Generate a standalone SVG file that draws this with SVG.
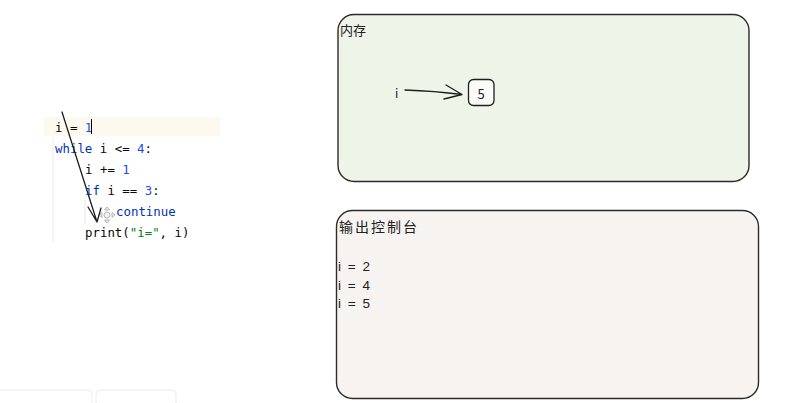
<svg xmlns="http://www.w3.org/2000/svg" width="789" height="403" viewBox="0 0 789 403">
<style>
.code{font-family:"DejaVu Sans Mono","Liberation Mono",monospace;font-size:12.4px;fill:#080808}
.kw{fill:#0033b3}
.num{fill:#1750eb}
.str{fill:#067d17}
.hand{font-family:"Noto Sans CJK SC","Noto Sans",sans-serif;fill:#222}
.out{font-family:"Liberation Sans",Arial,sans-serif;font-size:13.5px;fill:#222;letter-spacing:1.5px}
.box{stroke:#2b2b2b;stroke-width:1.4}
.ink{stroke:#1e1e1e;stroke-width:1.3;fill:none;stroke-linecap:round;stroke-linejoin:round}
</style>
<rect width="789" height="403" fill="#ffffff"/>
<g id="code">
<rect x="44" y="117" width="176" height="19" fill="#fdf9ee"/>
<line x1="53" y1="137" x2="53" y2="242" stroke="#ececec" stroke-width="1"/>
<line x1="85" y1="200" x2="85" y2="224" stroke="#e6e6e6" stroke-width="1"/>
<text class="code" x="55" y="132">i = <tspan class="num">1</tspan></text>
<line x1="91.5" y1="119" x2="91.5" y2="134" stroke="#000" stroke-width="1"/>
<text class="code" x="55" y="153"><tspan class="kw">while</tspan> i &lt;= <tspan class="num">4</tspan>:</text>
<text class="code" x="85" y="174">i += <tspan class="num">1</tspan></text>
<text class="code" x="85" y="195"><tspan class="kw">if</tspan> i == <tspan class="num">3</tspan>:</text>
<text class="code" x="116" y="216"><tspan class="kw">continue</tspan></text>
<text class="code" x="85" y="237">print(<tspan class="str">"i="</tspan>, i)</text>
<g id="cursor" stroke="#b5b5b5" stroke-width="1" fill="#f2f2f2">
<circle cx="107" cy="215" r="3"/>
<path d="M107 207 L104.5 210 L109.5 210 Z M107 223 L104.5 220 L109.5 220 Z M99 215 L102 212.5 L102 217.5 Z M115 215 L112 212.5 L112 217.5 Z"/>
</g>
</g>
<g id="memory">
<rect class="box" x="338" y="14.5" width="411" height="167" rx="16" fill="#eef4e7"/>
<text class="hand" x="340" y="35" font-size="13">内存</text>
<text class="hand" x="395" y="98" font-size="12" fill="#555">i</text>
<g id="value-5">
<rect x="468.5" y="79.5" width="25.5" height="26" rx="5" fill="#fafcf7" stroke="#1e1e1e" stroke-width="1.3"/>
<text class="hand" x="481" y="99" font-size="13" text-anchor="middle">5</text>
</g>
</g>
<g id="console">
<rect class="box" x="336.5" y="210.5" width="422" height="188" rx="16" fill="#f7f3f0"/>
<text class="hand" x="339" y="232" font-size="14" letter-spacing="2">输出控制台</text>
<text class="out" x="338" y="271">i = 2</text>
<text class="out" x="338" y="290">i = 4</text>
<text class="out" x="338" y="308">i = 5</text>
</g>
<g id="connectors">
<path class="ink" d="M62 112 L97 222 M88 207 L97 222 L101 208"/>
<path class="ink" d="M405 90 Q435 91 462 94.5 M446 85 L462 94.5 L444 99"/>
</g>
<g id="toolbar" fill="none" stroke="#ececec" stroke-width="1">
<path d="M0 390 L88 390 Q92 390 92 394 L92 403"/>
<path d="M96 403 L96 394 Q96 390 100 390 L172 390 Q176 390 176 394 L176 403"/>
</g>
</svg>
